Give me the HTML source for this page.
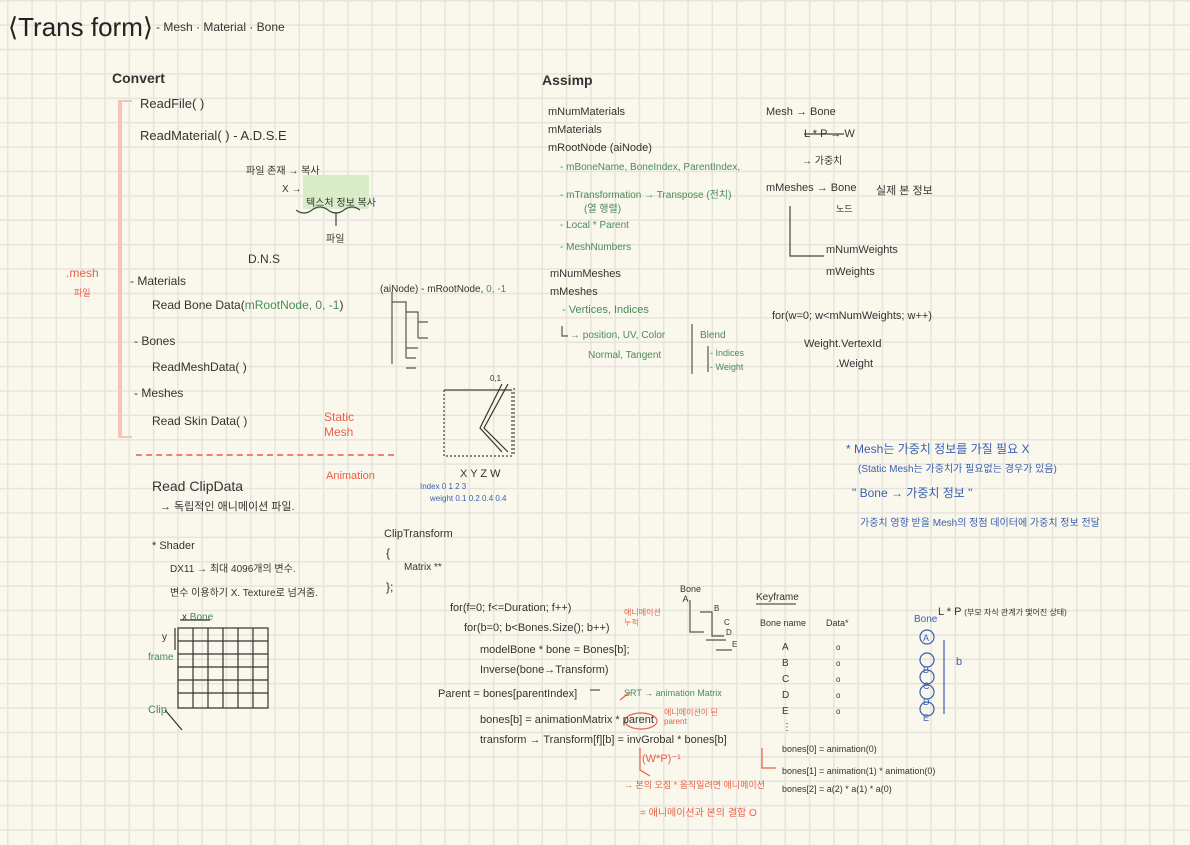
<!DOCTYPE html>
<html><head><meta charset="utf-8"><style>
body{margin:0}
#p{position:relative;width:1190px;height:845px;overflow:hidden;background-color:#faf8ec;
background-image:linear-gradient(#e6e4dc 1.5px,transparent 1.5px),linear-gradient(90deg,#e6e4dc 1.5px,transparent 1.5px);
background-size:24.3px 24.4px;background-position:7px 0px;font-family:"Liberation Sans","Noto Sans CJK KR",sans-serif;color:#333}
.t{position:absolute;white-space:nowrap;font-size:11px}
.g{color:#4a8a5a}.r{color:#e8604a}.b{color:#3a5fb0}
</style></head><body><div id="p">
<div class="t" style="left:8px;top:12px;font-size:26px;color:#222">⟨Trans form⟩</div>
<div class="t" style="left:156px;top:20px;font-size:12px">- Mesh · Material · Bone</div>
<div class="t" style="left:112px;top:70px;font-size:14px;font-weight:bold">Convert</div>
<div class="t" style="left:140px;top:96px;font-size:13px">ReadFile( )</div>
<div class="t" style="left:140px;top:128px;font-size:13px">ReadMaterial( ) - A.D.S.E</div>
<div class="t" style="left:246px;top:162px;font-size:10px">파일 존재 → 복사</div>
<div class="t" style="left:282px;top:180px;font-size:10px">X → 텍스처 생성</div>
<div style="position:absolute;left:303px;top:175px;width:66px;height:34px;background:#d8ecc8"></div>
<div class="t" style="left:306px;top:194px;font-size:10px">텍스처 정보 복사</div>
<div class="t" style="left:326px;top:230px;font-size:10px">파일</div>
<div class="t" style="left:248px;top:252px;font-size:12px">D.N.S</div>
<div class="t r" style="left:66px;top:266px;font-size:12px">.mesh</div>
<div class="t r" style="left:74px;top:286px;font-size:9px">파일</div>
<div style="position:absolute;left:118px;top:100px;width:10px;height:334px;border-left:4px solid #f5c4b8;border-top:2px solid #f5c4b8;border-bottom:2px solid #f5c4b8"></div>
<div class="t" style="left:130px;top:274px;font-size:12px">- Materials</div>
<div class="t" style="left:152px;top:298px;font-size:12px">Read Bone Data(<span class="g">mRootNode, 0, -1</span>)</div>
<div class="t" style="left:134px;top:334px;font-size:12px">- Bones</div>
<div class="t" style="left:152px;top:360px;font-size:12px">ReadMeshData( )</div>
<div class="t" style="left:134px;top:386px;font-size:12px">- Meshes</div>
<div class="t" style="left:152px;top:414px;font-size:12px">Read Skin Data( )</div>
<div class="t r" style="left:324px;top:410px;font-size:12px;line-height:15px">Static<br>Mesh</div>
<div style="position:absolute;left:136px;top:454px;width:258px;border-top:2px dashed #f08070"></div>
<div class="t r" style="left:326px;top:470px;font-size:11px">Animation</div>
<div class="t" style="left:152px;top:478px;font-size:14px">Read ClipData</div>
<div class="t" style="left:160px;top:498px;font-size:11px">→ 독립적인 애니메이션 파일.</div>
<div class="t" style="left:152px;top:540px;font-size:11px">* Shader</div>
<div class="t" style="left:170px;top:560px;font-size:10px">DX11 → 최대 4096개의 변수.</div>
<div class="t" style="left:170px;top:584px;font-size:10px">변수 이용하기 X. Texture로 넘겨줌.</div>
<div class="t" style="left:182px;top:612px;font-size:10px">x <span class="g">Bone</span></div>
<div class="t" style="left:162px;top:632px;font-size:10px">y</div>
<div class="t g" style="left:148px;top:652px;font-size:10px">frame</div>
<div class="t g" style="left:148px;top:704px;font-size:11px">Clip</div>
<svg style="position:absolute;left:0;top:0" width="1190" height="845" fill="none" stroke="#444" stroke-width="1.2">
<g stroke="#333"><rect x="178" y="628" width="90" height="80"/>
<path d="M178 641H268M178 654H268M178 667H268M178 680H268M178 693H268M193 628V708M208 628V708M223 628V708M238 628V708M253 628V708"/>
<path d="M175 628V650M180 620H210M165 710L182 730"/></g>
<path d="M296 210q8 6 16 0t16 0t16 0t16 0M336 212v14"/>
<path d="M392 292v72 M392 302h14v56M406 312h12v26M406 348h12M406 358h10M418 322h10M418 338h10M406 368h10" stroke="#555"/>
<g stroke="#444"><path d="M444 390V456H512V390M514 388V456" stroke-dasharray="2 2"/><path d="M444 390H512"/><path d="M508 384L484 428L508 452M502 384L480 428L502 452" stroke="#333"/></g>
<path d="M562 326v10h6M692 324v50M708 346v26" stroke="#555"/>
<path d="M804 134h40M790 206v50h34" stroke="#444"/>
<path d="M690 600v32h14M700 612h12v14M712 626v10h12M706 640h20M716 650h16" stroke="#555"/>
<path d="M944 640v74" stroke="#3a5fb0"/>
<g stroke="#3a5fb0"><circle cx="927" cy="637" r="7"/><circle cx="927" cy="660" r="7"/><circle cx="927" cy="677" r="7"/><circle cx="927" cy="692" r="7"/><circle cx="927" cy="709" r="7"/></g>
<ellipse cx="641" cy="721" rx="16" ry="8" stroke="#e8604a"/>
<path d="M620 700l10-8M640 748v22l10 6M762 748v20h14" stroke="#e8604a"/>
<path d="M600 690h-10M756 604h40" stroke="#555"/>
</svg>
<div class="t" style="left:380px;top:284px;font-size:10px">(aiNode) - mRootNode, <span class="g">0, -1</span></div>
<div class="t" style="left:490px;top:374px;font-size:8px">0,1</div>
<div class="t" style="left:460px;top:468px;font-size:11px">X Y Z W</div>
<div class="t b" style="left:420px;top:482px;font-size:8px">Index 0 1 2 3</div>
<div class="t b" style="left:430px;top:494px;font-size:8px">weight 0.1 0.2 0.4 0.4</div>
<div class="t" style="left:384px;top:528px;font-size:11px">ClipTransform</div>
<div class="t" style="left:386px;top:546px;font-size:12px">{</div>
<div class="t" style="left:404px;top:562px;font-size:10px">Matrix **</div>
<div class="t" style="left:386px;top:580px;font-size:12px">};</div>
<div class="t" style="left:542px;top:72px;font-size:14px;font-weight:bold">Assimp</div>
<div class="t" style="left:548px;top:106px;font-size:11px">mNumMaterials</div>
<div class="t" style="left:548px;top:124px;font-size:11px">mMaterials</div>
<div class="t" style="left:548px;top:142px;font-size:11px">mRootNode (aiNode)</div>
<div class="t g" style="left:560px;top:162px;font-size:10px">- mBoneName, BoneIndex, ParentIndex,</div>
<div class="t g" style="left:560px;top:186px;font-size:10px">- mTransformation → Transpose (전치)</div>
<div class="t g" style="left:584px;top:200px;font-size:10px">(열 행렬)</div>
<div class="t g" style="left:560px;top:220px;font-size:10px">- Local * Parent</div>
<div class="t g" style="left:560px;top:242px;font-size:10px">- MeshNumbers</div>
<div class="t" style="left:550px;top:268px;font-size:11px">mNumMeshes</div>
<div class="t" style="left:550px;top:286px;font-size:11px">mMeshes</div>
<div class="t g" style="left:562px;top:304px;font-size:11px">- Vertices, Indices</div>
<div class="t g" style="left:570px;top:330px;font-size:10px">→ position, UV, Color</div>
<div class="t g" style="left:588px;top:350px;font-size:10px">Normal, Tangent</div>
<div class="t g" style="left:700px;top:330px;font-size:10px">Blend</div>
<div class="t g" style="left:710px;top:348px;font-size:9px">- Indices</div>
<div class="t g" style="left:710px;top:362px;font-size:9px">- Weight</div>
<div class="t" style="left:766px;top:106px;font-size:11px">Mesh → Bone</div>
<div class="t" style="left:804px;top:128px;font-size:11px">L * P → W</div>
<div class="t" style="left:802px;top:152px;font-size:10px">→ 가중치</div>
<div class="t" style="left:766px;top:182px;font-size:11px">mMeshes → Bone</div>
<div class="t" style="left:876px;top:182px;font-size:11px">실제 본 정보</div>
<div class="t" style="left:836px;top:202px;font-size:9px">노드</div>
<div class="t" style="left:826px;top:244px;font-size:11px">mNumWeights</div>
<div class="t" style="left:826px;top:266px;font-size:11px">mWeights</div>
<div class="t" style="left:772px;top:310px;font-size:11px">for(w=0; w&lt;mNumWeights; w++)</div>
<div class="t" style="left:804px;top:338px;font-size:11px">Weight.VertexId</div>
<div class="t" style="left:836px;top:358px;font-size:11px">.Weight</div>
<div class="t b" style="left:846px;top:440px;font-size:12px">* Mesh는 가중치 정보를 가질 필요 X</div>
<div class="t b" style="left:858px;top:460px;font-size:10px">(Static Mesh는 가중치가 필요없는 경우가 있음)</div>
<div class="t b" style="left:852px;top:484px;font-size:12px">" Bone → 가중치 정보 "</div>
<div class="t b" style="left:860px;top:514px;font-size:10px">가중치 영향 받을 Mesh의 정점 데이터에 가중치 정보 전달</div>
<div class="t" style="left:450px;top:602px;font-size:11px">for(f=0; f&lt;=Duration; f++)</div>
<div class="t" style="left:464px;top:622px;font-size:11px">for(b=0; b&lt;Bones.Size(); b++)</div>
<div class="t" style="left:480px;top:644px;font-size:11px">modelBone * bone = Bones[b];</div>
<div class="t" style="left:480px;top:664px;font-size:11px">Inverse(bone→Transform)</div>
<div class="t" style="left:438px;top:688px;font-size:11px">Parent = bones[parentIndex]</div>
<div class="t g" style="left:624px;top:688px;font-size:9px">SRT → animation Matrix</div>
<div class="t" style="left:480px;top:714px;font-size:11px">bones[b] = animationMatrix * parent</div>
<div class="t r" style="left:664px;top:708px;font-size:8px;line-height:9px">애니메이션이 된<br>parent</div>
<div class="t" style="left:480px;top:734px;font-size:11px">transform → Transform[f][b] = invGrobal * bones[b]</div>
<div class="t r" style="left:642px;top:752px;font-size:11px">(W*P)⁻¹</div>
<div class="t r" style="left:624px;top:778px;font-size:9px">→ 본의 오점 * 움직일려면 애니메이션</div>
<div class="t r" style="left:640px;top:804px;font-size:10px">= 애니메이션과 본의 결합 O</div>
<div class="t r" style="left:624px;top:608px;font-size:8px;line-height:10px">애니메이션<br>누적</div>
<div class="t" style="left:680px;top:584px;font-size:9px">Bone<br>&nbsp;A</div>
<div class="t" style="left:714px;top:604px;font-size:8px">B</div><div class="t" style="left:724px;top:618px;font-size:8px">C</div>
<div class="t" style="left:726px;top:628px;font-size:8px">D</div><div class="t" style="left:732px;top:640px;font-size:8px">E</div>
<div class="t" style="left:756px;top:592px;font-size:10px">Keyframe</div>
<div class="t" style="left:760px;top:618px;font-size:9px">Bone name</div>
<div class="t" style="left:826px;top:618px;font-size:9px">Data*</div>
<div class="t" style="left:782px;top:640px;font-size:10px;line-height:16px">A<br>B<br>C<br>D<br>E<br>⋮</div>
<div class="t" style="left:836px;top:640px;font-size:8px;line-height:16px">o<br>o<br>o<br>o<br>o</div>
<div class="t" style="left:782px;top:744px;font-size:9px">bones[0] = animation(0)</div>
<div class="t" style="left:782px;top:766px;font-size:9px">bones[1] = animation(1) * animation(0)</div>
<div class="t" style="left:782px;top:784px;font-size:9px">bones[2] = a(2) * a(1) * a(0)</div>
<div class="t" style="left:938px;top:606px;font-size:11px">L * P <span style="font-size:8px">(부모 자식 관계가 맺어진 상태)</span></div>
<div class="t b" style="left:914px;top:614px;font-size:10px">Bone</div>
<div class="t b" style="left:923px;top:630px;font-size:9px;line-height:16px">A<br><br>B<br>C<br>D<br>E</div>
<div class="t b" style="left:956px;top:656px;font-size:11px">b</div>
</div></body></html>
